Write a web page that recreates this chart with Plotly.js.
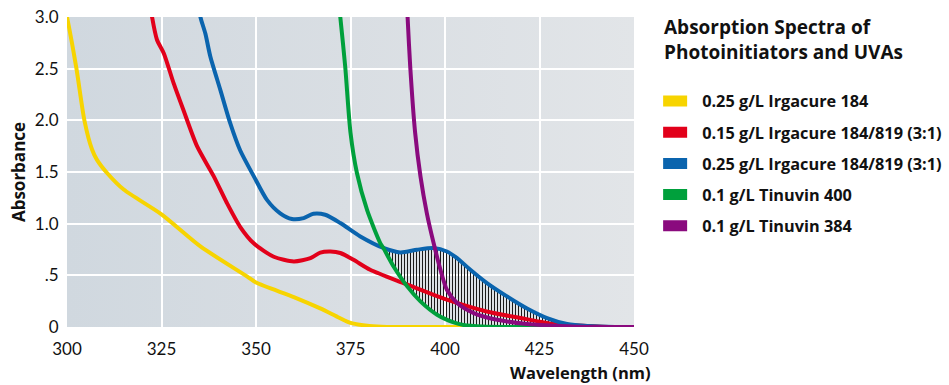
<!DOCTYPE html>
<html>
<head>
<meta charset="utf-8">
<script src="https://cdn.plot.ly/plotly-3.0.1.min.js"></script>
<style>
  html, body { margin: 0; padding: 0; background: #ffffff; }
  #chart { width: 949px; height: 385px; }
</style>
</head>
<body>
<div id="chart"></div>
<script>
// ---- Data ----
const seriesNames = [
  "0.25 g/L Irgacure 184",
  "0.15 g/L Irgacure 184/819 (3:1)",
  "0.25 g/L Irgacure 184/819 (3:1)",
  "0.1 g/L Tinuvin 400",
  "0.1 g/L Tinuvin 384"
];

const irg184_x = [299.7, 300, 302.5, 304.6, 306.6, 307.9, 310.6, 315, 325, 335.3, 347.6, 350, 360, 367, 372, 375, 380, 384.6, 395, 410, 420, 450];
const irg184_y = [3.05, 3.0, 2.5, 2.0, 1.72, 1.62, 1.49, 1.33, 1.09, 0.78, 0.49, 0.43, 0.29, 0.18, 0.09, 0.04, 0.01, 0.0, 0.0, 0.0, 0.0, 0.0];

const irg015_x = [322.1, 322.5, 323.8, 325.6, 328.2, 330.8, 334.4, 338.8, 342.3, 345.8, 349.4, 354.7, 360, 364.4, 367, 369.7, 372.3, 375.8, 380.2, 389, 400.5, 411, 420, 428.7, 437.6, 445, 450];
const irg015_y = [3.1, 3.0, 2.78, 2.65, 2.36, 2.10, 1.75, 1.46, 1.20, 0.97, 0.81, 0.68, 0.635, 0.667, 0.72, 0.73, 0.716, 0.65, 0.554, 0.425, 0.264, 0.15, 0.087, 0.03, 0.01, 0.0, 0.0];

const irg025_x = [335.0, 335.3, 336.6, 337.9, 340.6, 343.2, 345.8, 349.4, 352.9, 356.4, 359.5, 362.6, 365.2, 368.3, 372.3, 377.6, 383.7, 388.2, 392.6, 397, 400.5, 403.2, 406.7, 411.1, 416.4, 421.7, 427, 432.3, 437.6, 445, 450];
const irg025_y = [3.1, 3.0, 2.84, 2.62, 2.29, 1.97, 1.71, 1.46, 1.23, 1.10, 1.045, 1.054, 1.096, 1.086, 1.006, 0.876, 0.765, 0.722, 0.748, 0.764, 0.731, 0.667, 0.554, 0.425, 0.296, 0.18, 0.087, 0.03, 0.01, 0.0, 0.0];

const tin400_x = [372.0, 372.3, 373.6, 375, 376.7, 379.4, 382.9, 383.7, 386.4, 390, 393.5, 397.9, 402.3, 404.9, 410, 420, 450];
const tin400_y = [3.1, 3.0, 2.52, 1.88, 1.49, 1.13, 0.81, 0.765, 0.586, 0.393, 0.248, 0.119, 0.045, 0.02, 0.005, 0.0, 0.0];

const tin384_x = [390.0, 390.1, 390.8, 392.1, 393.5, 395.2, 397, 398.8, 400.5, 403.2, 407.6, 413.8, 421.7, 430.5, 440, 450];
const tin384_y = [3.1, 3.0, 2.52, 1.88, 1.46, 1.10, 0.81, 0.554, 0.36, 0.232, 0.135, 0.07, 0.03, 0.01, 0.0, 0.0];

const seriesColors = ["#f7d400", "#e2001a", "#0a64ae", "#00a03c", "#8a0a7e"];

// hatched band: between the blue curve and the Tinuvin 400 curve
const hatchStart = 383.7, hatchEnd = 445;

const xTicks = [300, 325, 350, 375, 400, 425, 450];
const yTicks = [0, 0.5, 1.0, 1.5, 2.0, 2.5, 3.0];
const yTickText = ["0", ".5", "1.0", "1.5", "2.0", "2.5", "3.0"];

// ---- Build traces ----
function sub(xs, ys, a, b) {
  const ox = [], oy = [];
  xs.forEach((x, i) => { if (x >= a && x <= b) { ox.push(x); oy.push(ys[i]); } });
  return {x: ox, y: oy};
}
const hatchLow = sub(tin400_x, tin400_y, hatchStart, hatchEnd);
const hatchHigh = sub(irg025_x, irg025_y, hatchStart, hatchEnd);

const lineShape = {shape: "spline", smoothing: 0.7, width: 4};

const traces = [
  {x: hatchLow.x, y: hatchLow.y, mode: "lines", line: {width: 0, shape: "spline", smoothing: 0.7},
   showlegend: false, hoverinfo: "skip"},
  {x: hatchHigh.x, y: hatchHigh.y, mode: "lines", line: {width: 0, shape: "spline", smoothing: 0.7},
   fill: "tonexty", fillcolor: "rgba(0,0,0,0)",
   fillpattern: {shape: "|", size: 3, solidity: 0.34, fgcolor: "#1a1a1a", fgopacity: 1},
   showlegend: false, hoverinfo: "skip"}
];
const allX = [irg184_x, irg015_x, irg025_x, tin400_x, tin384_x];
const allY = [irg184_y, irg015_y, irg025_y, tin400_y, tin384_y];
for (let i = 0; i < 5; i++) {
  traces.push({
    x: allX[i], y: allY[i], name: seriesNames[i], mode: "lines",
    legendgroup: "g" + i,
    line: Object.assign({}, lineShape, {color: seriesColors[i]})
  });
}

const gradSvg = '<svg xmlns="http://www.w3.org/2000/svg" width="100" height="100" preserveAspectRatio="none">' +
  '<defs><linearGradient id="g" x1="0" y1="0" x2="1" y2="0">' +
  '<stop offset="0" stop-color="#d0d8df"/><stop offset="0.5" stop-color="#d9dee3"/><stop offset="1" stop-color="#e2e5e8"/>' +
  '</linearGradient></defs><rect width="100" height="100" fill="url(#g)"/></svg>';
const gradUri = "data:image/svg+xml;base64," + btoa(gradSvg);

const FONT = "Lato, 'Open Sans', sans-serif";
const BFONT = "'Open Sans', Lato, sans-serif";

const layout = {
  width: 949, height: 385,
  margin: {l: 67, r: 315, t: 17, b: 58},
  paper_bgcolor: "#ffffff",
  plot_bgcolor: "rgba(0,0,0,0)",
  font: {family: FONT, color: "#111111", size: 16},
  images: [{source: gradUri, xref: "paper", yref: "paper", x: 0, y: 1, sizex: 1, sizey: 1,
            sizing: "stretch", layer: "below", xanchor: "left", yanchor: "top"}],
  xaxis: {
    range: [300, 450], tickvals: xTicks, ticktext: xTicks.map(String),
    showgrid: true, gridcolor: "#ffffff", gridwidth: 2, zeroline: false, showline: false,
    ticks: "outside", ticklen: 7, tickcolor: "rgba(0,0,0,0)",
    tickfont: {family: FONT, size: 17, color: "#111"}
  },
  yaxis: {
    range: [0, 3.0], tickvals: yTicks, ticktext: yTickText,
    showgrid: true, gridcolor: "#ffffff", gridwidth: 2, zeroline: false, showline: false,
    ticks: "outside", ticklen: 4, tickcolor: "rgba(0,0,0,0)",
    tickfont: {family: FONT, size: 17, color: "#111"},
    title: {text: "Absorbance", font: {family: BFONT, size: 17, color: "#111", weight: "bold"}, standoff: 4}
  },
  showlegend: true,
  legend: {
    xref: "container", yref: "container",
    x: 0.6935, y: 0.782, xanchor: "left", yanchor: "top",
    bgcolor: "rgba(0,0,0,0)", borderwidth: 0,
    traceorder: "grouped", tracegroupgap: 7, itemwidth: 34,
    font: {family: BFONT, size: 16.3, color: "#111", weight: "bold"}
  },
  annotations: [
    {text: "Absorption Spectra of<br>Photoinitiators and UVAs", xref: "paper", yref: "paper",
     x: 1.049, y: 1.015, xanchor: "left", yanchor: "top", align: "left", showarrow: false,
     font: {family: BFONT, size: 19, color: "#111", weight: "bold"}},
    {text: "Wavelength (nm)", xref: "paper", yref: "paper", borderpad: 0,
     x: 1.032, y: -0.186, xanchor: "right", yanchor: "bottom", showarrow: false,
     font: {family: BFONT, size: 16.5, color: "#111", weight: "bold"}}
  ]
};

Plotly.newPlot("chart", traces, layout, {staticPlot: true, displayModeBar: false}).then(function (gd) {
  gd.querySelectorAll(".legend .legendlines path").forEach(function (p) {
    p.setAttribute("d", "M5,0h24");
    p.style.strokeWidth = "11px";
    p.style.strokeLinecap = "butt";
  });
});
</script>
</body>
</html>
